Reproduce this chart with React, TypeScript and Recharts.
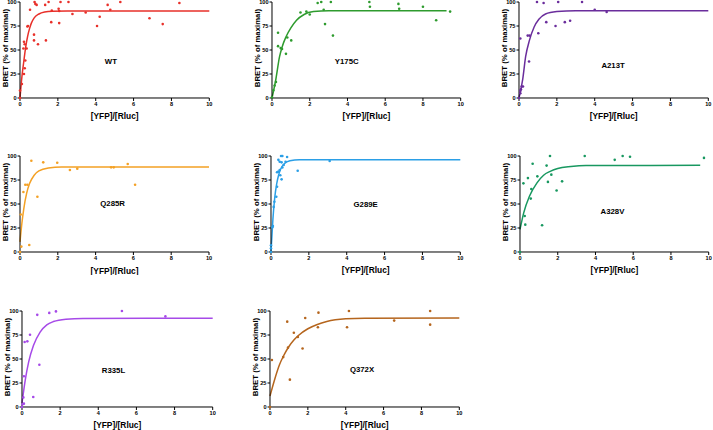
import React from "react";
import {
  ComposedChart,
  Line,
  ReferenceDot,
  Scatter,
  XAxis,
  YAxis,
} from "recharts";

const xTicks = [0, 2, 4, 6, 8, 10];
const yTicks = [0, 25, 50, 75, 100];

// measured points, [YFP]/[Rluc] vs BRET %
const wtPoints = [
  [0, 0], [0, 7.7], [0.1, 14.6], [0.21, 25], [0.25, 31], [0.28, 39], [0.18, 51.6],
  [0.21, 58.5], [0.25, 56], [0.35, 51.6], [0.39, 74.5], [0.42, 75], [0.53, 92],
  [0.74, 66], [0.74, 60], [0.95, 56], [0.77, 100], [0.81, 98], [0.88, 97], [1.37, 60],
  [1.33, 97], [1.51, 100], [1.65, 79], [1.68, 91], [2.04, 93], [2.07, 78], [2.07, 90.6],
  [2.14, 100], [2.56, 100], [2.77, 87.5], [3.47, 89], [4.07, 75], [4.21, 84.7],
  [4.63, 97], [4.77, 92], [5.3, 100], [6.84, 83], [7.54, 77], [8.42, 99],
];
const wtCurve = [
  [0, 0], [0.1, 22], [0.2, 38], [0.3, 53], [0.4, 64], [0.5, 72], [0.6, 78], [0.75, 83.5],
  [1, 87.5], [1.3, 89.5], [1.7, 90.3], [2.5, 90.5], [10, 90.5],
];

const y175cPoints = [
  [0, 0.7], [0.07, 8], [0.14, 13], [0.21, 16.7], [0.32, 68], [0.32, 54], [0.46, 52],
  [0.53, 51], [0.74, 46], [0.81, 63], [1.02, 60], [1.51, 89], [1.82, 90], [2.0, 87],
  [2.42, 99], [2.61, 100], [2.74, 92], [2.81, 77], [3.12, 100], [3.23, 65], [5.16, 100],
  [5.19, 95], [6.7, 98], [6.74, 93], [8.0, 95], [8.7, 81], [9.44, 90],
];
const y175cCurve = [
  [0, 0], [0.2, 19], [0.4, 43], [0.55, 54], [0.75, 64], [1, 73], [1.3, 81], [1.7, 87],
  [2.2, 90], [3, 91], [9.25, 91],
];

const a213tPoints = [
  [0, 0], [0.07, 7.6], [0.1, 9], [0.07, 5], [0.14, 12], [0.21, 12], [0.07, 62],
  [0.46, 65], [0.56, 65], [0.53, 38], [0.95, 100], [1.3, 99], [1.02, 67.5], [1.44, 79],
  [1.93, 75], [2.07, 100], [2.42, 79], [2.7, 80.5], [3.33, 100], [4.0, 92], [4.63, 89.6],
];
const a213tCurve = [
  [0, 0], [0.2, 20], [0.35, 43], [0.55, 60], [0.8, 74], [1.05, 82], [1.4, 87.5],
  [2, 90], [3, 91], [10, 91],
];

const q285rPoints = [
  [0, 0], [0.04, 39], [0.07, 5.6], [0.18, 62.5], [0.28, 70], [0.39, 70], [0.49, 7.3],
  [0.6, 95], [0.92, 57.6], [1.23, 93.4], [1.97, 93], [2.64, 85.4], [3.03, 86.8],
  [4.82, 88.2], [4.96, 88.2], [5.7, 91.7], [6.09, 70],
];
const q285rCurve = [
  [0, 10.5], [0.1, 30], [0.2, 45], [0.35, 61], [0.5, 71], [0.75, 80], [1, 84.5],
  [1.5, 87.5], [2.2, 88.5], [10, 88.5],
];

const g289ePoints = [
  [0, 0], [0, 3.8], [0, 7], [0.07, 25.7], [0.1, 27], [0.14, 47], [0.18, 52.4],
  [0.28, 57.6], [0.32, 68], [0.32, 83], [0.39, 83.7], [0.46, 85.4], [0.49, 80],
  [0.39, 96], [0.46, 94], [0.53, 100], [0.6, 100], [0.56, 93.4], [0.56, 75.7],
  [0.6, 88], [0.67, 90.6], [0.77, 94], [0.85, 99], [1.41, 84.7], [3.1, 94.8],
];
const g289eCurve = [
  [0, 0], [0.1, 34], [0.2, 57], [0.3, 71], [0.4, 80], [0.5, 86], [0.7, 92], [1, 95],
  [1.5, 96], [10, 96],
];

const a328vPoints = [
  [0, 0], [0.18, 71.5], [0.25, 37.5], [0.28, 28.5], [0.42, 77], [0.57, 55.6],
  [0.6, 65.6], [0.67, 92], [0.92, 78.8], [1.17, 27.8], [1.41, 90], [1.48, 73],
  [1.59, 100], [1.66, 80.6], [1.94, 64], [2.23, 73.6], [3.43, 100], [5.02, 96],
  [5.44, 100], [5.83, 99.3], [9.75, 98],
];
const a328vCurve = [
  [0, 23.5], [0.2, 41], [0.5, 58], [0.9, 72], [1.25, 80], [1.6, 84], [2, 87],
  [2.7, 89], [3.5, 90], [9.55, 90.3],
];

const r335lPoints = [
  [0, 0], [0.03, 2.8], [0.07, 10], [0.1, 3.5], [0.1, 32], [0.14, 67.7], [0.28, 68.4],
  [0.42, 75.3], [0.59, 10.4], [0.8, 96], [0.91, 44], [1.43, 98], [1.78, 99.6],
  [5.24, 100], [7.52, 94.4],
];
const r335lCurve = [
  [0, 4], [0.17, 28], [0.35, 47], [0.6, 64], [0.95, 78], [1.3, 85.5], [1.65, 89],
  [2.3, 91.5], [3.2, 92.3], [10, 92.4],
];

const q372xPoints = [
  [0, 0], [0.1, 49], [0.7, 52], [0.91, 88.9], [0.95, 61.8], [1.05, 28.5], [1.26, 77.4],
  [1.47, 72.9], [1.72, 61], [1.86, 92.7], [2.53, 83], [2.56, 98.3], [4.07, 83],
  [4.17, 100], [6.56, 90], [8.46, 100], [8.46, 85.8],
];
const q372xCurve = [
  [0, 11.5], [0.25, 29], [0.5, 44], [0.75, 54.5], [1, 63], [1.25, 69.5], [1.5, 74.5],
  [2, 81.5], [2.5, 86], [3, 89], [4, 91.8], [5, 92.5], [10, 92.7],
];

const toXY = (arr: number[][]) => arr.map(([x, y]) => ({ x, y }));

const FONT = '"Liberation Sans", Arial, sans-serif';

// left/top = plot area corner in the page, w = plot width
const panels = [
  { name: "WT", color: "#e8302a", points: wtPoints, curve: wtCurve, left: 20, top: 2.3, w: 189.3, lx: 4.8, ly: 38.5 },
  { name: "Y175C", color: "#2e9b2e", points: y175cPoints, curve: y175cCurve, left: 272, top: 2.3, w: 188.7, lx: 3.96, ly: 38 },
  { name: "A213T", color: "#6a2d9c", points: a213tPoints, curve: a213tCurve, left: 518.7, top: 2, w: 189.3, lx: 4.97, ly: 34 },
  { name: "Q285R", color: "#f4a125", points: q285rPoints, curve: q285rCurve, left: 20, top: 156, w: 189, lx: 4.9, ly: 51 },
  { name: "G289E", color: "#2b9fe6", points: g289ePoints, curve: g289eCurve, left: 270.7, top: 156, w: 189.3, lx: 5.0, ly: 50 },
  { name: "A328V", color: "#189860", points: a328vPoints, curve: a328vCurve, left: 520, top: 156, w: 188.7, lx: 4.9, ly: 42.4 },
  { name: "R335L", color: "#a64ae8", points: r335lPoints, curve: r335lCurve, left: 22, top: 311.3, w: 190.7, lx: 4.8, ly: 38.8 },
  { name: "Q372X", color: "#b5651d", points: q372xPoints, curve: q372xCurve, left: 270, top: 311.3, w: 189.3, lx: 4.86, ly: 39 },
];

const PLOT_H = 96;
const Y_W = 20;
const M_TOP = 5;
const M_RIGHT = 8;
const X_H = 23;

const tickStyle = { fontSize: 5.6, fontWeight: 700, fill: "#000", fontFamily: FONT };

function YTitle(props: any) {
  const vb = props.viewBox || {};
  const x = (vb.x ?? 0) + 5.5;
  const y = (vb.y ?? M_TOP) + (vb.height ?? PLOT_H) / 2 - 2;
  return (
    <text
      x={x}
      y={y}
      transform={`rotate(-90, ${x}, ${y})`}
      textAnchor="middle"
      dominantBaseline="central"
      fontSize={7.8}
      fontWeight={700}
      fontFamily={FONT}
      fill="#000"
    >
      BRET (% of maximal)
    </text>
  );
}

function Panel({ p }: { p: (typeof panels)[number] }) {
  const dot = (s: any) => <circle cx={s.cx} cy={s.cy} r={1.3} fill={p.color} />;
  return (
    <div style={{ position: "absolute", left: p.left - Y_W, top: p.top - M_TOP }}>
      <ComposedChart
        width={Y_W + p.w + M_RIGHT}
        height={M_TOP + PLOT_H + X_H}
        margin={{ top: M_TOP, right: M_RIGHT, bottom: 0, left: 0 }}
      >
        <XAxis
          type="number"
          dataKey="x"
          domain={[0, 10]}
          ticks={xTicks}
          interval={0}
          height={X_H}
          tickSize={3}
          tickMargin={1}
          tick={tickStyle}
          axisLine={{ stroke: "#000", strokeWidth: 1 }}
          tickLine={{ stroke: "#000", strokeWidth: 1 }}
          label={{
            value: "[YFP]/[Rluc]",
            position: "insideBottom",
            offset: 1.5,
            fontSize: 8.4,
            fontWeight: 700,
            fontFamily: FONT,
            fill: "#000",
          }}
        />
        <YAxis
          type="number"
          dataKey="y"
          domain={[0, 100]}
          ticks={yTicks}
          interval={0}
          width={Y_W}
          tickSize={2.5}
          tickMargin={1}
          tick={tickStyle}
          axisLine={{ stroke: "#000", strokeWidth: 1 }}
          tickLine={{ stroke: "#000", strokeWidth: 1 }}
          label={<YTitle />}
        />
        <Line
          data={toXY(p.curve)}
          dataKey="y"
          type="monotone"
          stroke={p.color}
          strokeWidth={1.5}
          dot={false}
          activeDot={false}
          isAnimationActive={false}
        />
        <Scatter
          data={toXY(p.points)}
          dataKey="y"
          fill={p.color}
          shape={dot}
          isAnimationActive={false}
        />
        <ReferenceDot
          x={p.lx}
          y={p.ly}
          r={0.5}
          fill="none"
          stroke="none"
          label={{
            value: p.name,
            position: "center",
            fontSize: 7.8,
            fontWeight: 700,
            fontFamily: FONT,
            fill: "#000",
          }}
        />
      </ComposedChart>
    </div>
  );
}

export default function App() {
  return (
    <div
      style={{
        position: "absolute",
        left: 0,
        top: 0,
        width: 713,
        height: 430,
        overflow: "hidden",
        background: "#fff",
      }}
    >
      {panels.map((p) => (
        <Panel key={p.name} p={p} />
      ))}
    </div>
  );
}
